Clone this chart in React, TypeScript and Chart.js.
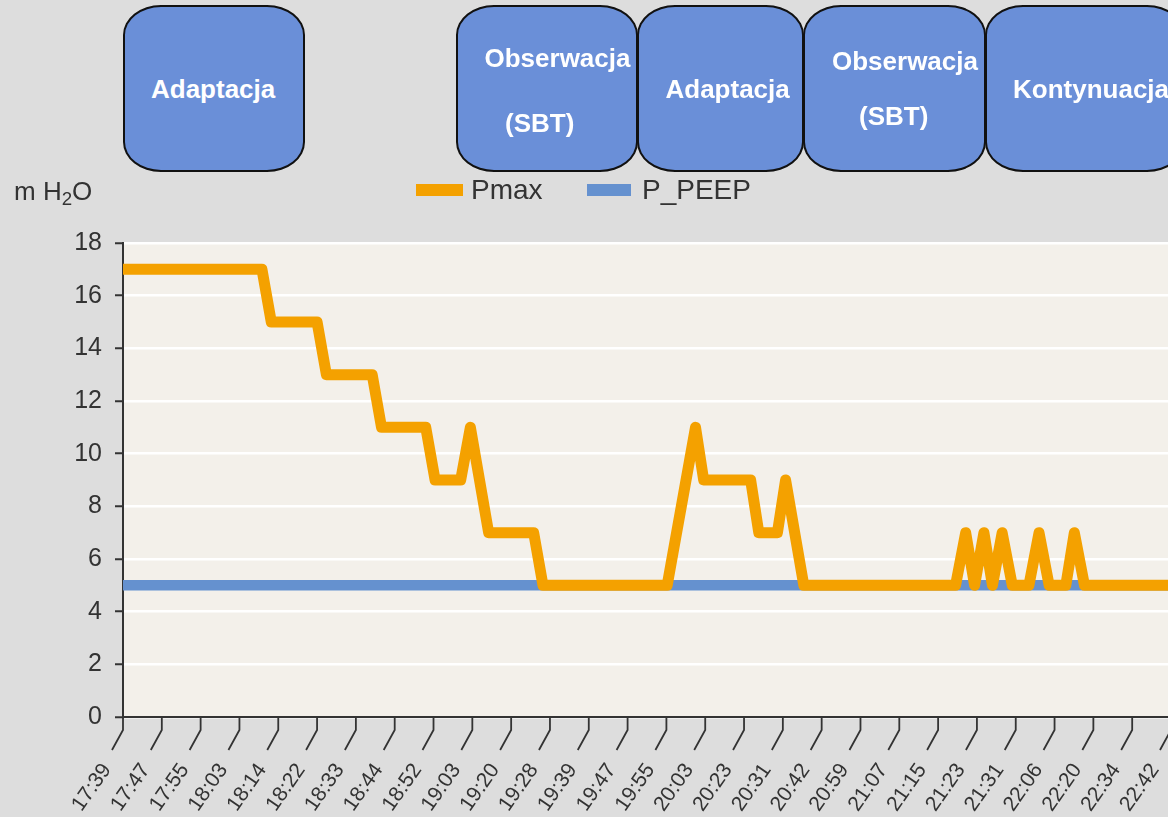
import React, { useEffect, useRef } from "react";
import { Chart, registerables } from "chart.js";

Chart.register(...registerables);

// ---- data ----
const timeLabels = [
  "17:39", "17:47", "17:55", "18:03", "18:14", "18:22", "18:33", "18:44", "18:52", "19:03",
  "19:20", "19:28", "19:39", "19:47", "19:55", "20:03", "20:23", "20:31", "20:42", "20:59",
  "21:07", "21:15", "21:23", "21:31", "22:06", "22:20", "22:34", "22:42",
];

// positions along the time axis, expressed in label-interval units (0 = 17:39)
const pmaxPos = [
  0, 3.58, 3.82, 5.0, 5.24, 6.42, 6.66, 7.8, 8.04, 8.7,
  8.95, 9.42, 10.58, 10.82, 14.02, 14.75, 14.96, 16.17, 16.38, 16.86,
  17.07, 17.54, 21.45, 21.71, 21.94, 22.18, 22.4, 22.65, 22.91, 23.34,
  23.6, 23.86, 24.29, 24.51, 24.77, 27,
];
const pmaxValues = [
  17, 17, 15, 15, 13, 13, 11, 11, 9, 9,
  11, 7, 7, 5, 5, 11, 9, 9, 7, 7,
  9, 5, 5, 7, 5, 7, 5, 7, 5, 5,
  7, 5, 5, 7, 5, 5,
];

const peepPos = [0, 27];
const peepValues = [5, 5];

const yMin = 0;
const yMax = 18;
const yStep = 2;

const phases = [
  { left: 123, width: 182, lines: [{ text: "Adaptacja", x: 151, top: 76 }] },
  {
    left: 455.5, width: 182,
    lines: [
      { text: "Obserwacja", x: 484.5, top: 44.5 },
      { text: "(SBT)", x: 505, top: 109.5 },
    ],
  },
  { left: 636.5, width: 167, lines: [{ text: "Adaptacja", x: 665.5, top: 76 }] },
  {
    left: 802.5, width: 183.5,
    lines: [
      { text: "Obserwacja", x: 832, top: 48 },
      { text: "(SBT)", x: 859, top: 103 },
    ],
  },
  { left: 985, width: 200, lines: [{ text: "Kontynuacja", x: 1013, top: 76 }] },
];

// ---- styles ----
const ORANGE = "#F4A100";
const BLUE = "#6591CF";
const AXIS = "#333333";
const PLOT_BG = "#F3F0EA";
const PAGE_BG = "#DDDDDD";
const BOX_BG = "#6A8FD8";
const FONT = '"Liberation Sans", Arial, Helvetica, sans-serif';

const decorPlugin = {
  id: "decor",
  beforeDraw(chart: any) {
    const { ctx, chartArea: a } = chart;
    ctx.save();
    ctx.fillStyle = PLOT_BG;
    ctx.fillRect(a.left, a.top, a.right - a.left, a.bottom - a.top);
    ctx.restore();
  },
  afterDraw(chart: any) {
    const { ctx } = chart;
    const xs = chart.scales.x;
    const yb = chart.chartArea.bottom;
    ctx.save();
    ctx.strokeStyle = AXIS;
    ctx.lineWidth = 1.8;
    ctx.fillStyle = AXIS;
    ctx.font = `21px ${FONT}`;
    timeLabels.forEach((lab, i) => {
      const px = xs.getPixelForValue(i);
      ctx.beginPath();
      ctx.moveTo(px, yb);
      ctx.lineTo(px, yb + 13);
      ctx.lineTo(px - 11, yb + 33);
      ctx.stroke();
      ctx.save();
      ctx.translate(px - 16, yb + 49);
      ctx.rotate((-55 * Math.PI) / 180);
      ctx.textAlign = "right";
      ctx.textBaseline = "middle";
      ctx.fillText(lab, 0, 0);
      ctx.restore();
    });
    ctx.restore();
  },
};

export default function App() {
  const canvasRef = useRef<HTMLCanvasElement | null>(null);

  useEffect(() => {
    if (!canvasRef.current) return;
    const chart = new Chart(canvasRef.current, {
      type: "line",
      data: {
        datasets: [
          {
            label: "Pmax",
            data: pmaxPos.map((x, i) => ({ x, y: pmaxValues[i] })),
            borderColor: ORANGE,
            backgroundColor: ORANGE,
            borderWidth: 11,
            pointRadius: 0,
            borderJoinStyle: "round",
            tension: 0,
            fill: false,
          },
          {
            label: "P_PEEP",
            data: peepPos.map((x, i) => ({ x, y: peepValues[i] })),
            borderColor: BLUE,
            backgroundColor: BLUE,
            borderWidth: 10.5,
            pointRadius: 0,
            tension: 0,
            fill: false,
          },
        ],
      },
      options: {
        responsive: false,
        animation: false,
        layout: { padding: { top: 243, left: 0, right: 0, bottom: 0 } },
        plugins: {
          legend: { display: false },
          tooltip: { enabled: false },
        },
        scales: {
          x: {
            type: "linear",
            min: 0,
            max: timeLabels.length - 1,
            grid: { display: false, drawTicks: false },
            border: { display: true, color: AXIS, width: 2 },
            ticks: { display: false },
            afterFit: (s: any) => {
              s.height = 100;
            },
          },
          y: {
            min: yMin,
            max: yMax,
            ticks: {
              stepSize: yStep,
              font: { family: FONT, size: 25 },
              color: AXIS,
              padding: 13,
            },
            grid: {
              color: "#FFFFFF",
              lineWidth: 2.5,
              tickColor: AXIS,
              tickLength: 8,
              tickWidth: 2,
              drawTicks: true,
            },
            border: { display: true, color: AXIS, width: 2 },
            afterFit: (s: any) => {
              s.width = 123;
            },
          },
        },
      } as any,
      plugins: [decorPlugin],
    });
    return () => chart.destroy();
  }, []);

  return (
    <div
      style={{
        position: "absolute",
        left: 0,
        top: 0,
        width: 1168,
        height: 817,
        overflow: "hidden",
        background: PAGE_BG,
        fontFamily: FONT,
      }}
    >
      <canvas
        ref={canvasRef}
        width={1171}
        height={817}
        style={{ position: "absolute", left: 0, top: 0 }}
      />
      {phases.map((p, i) => (
        <div
          key={i}
          style={{
            position: "absolute",
            left: p.left,
            top: 5,
            width: p.width,
            height: 167,
            boxSizing: "border-box",
            border: "2px solid #111",
            borderRadius: "38px / 30px",
            background: BOX_BG,
          }}
        />
      ))}
      {phases.map((p, i) =>
        p.lines.map((l, j) => (
          <span
            key={`${i}-${j}`}
            style={{
              position: "absolute",
              left: l.x,
              top: l.top,
              fontSize: 26,
              lineHeight: "26px",
              fontWeight: "bold",
              color: "#FFFFFF",
              whiteSpace: "nowrap",
            }}
          >
            {l.text}
          </span>
        ))
      )}
      <span
        style={{
          position: "absolute",
          left: 14,
          top: 177.5,
          fontSize: 26,
          lineHeight: "26px",
          color: AXIS,
          whiteSpace: "nowrap",
        }}
      >
        m H
        <sub style={{ fontSize: "0.72em", verticalAlign: "-0.25em", lineHeight: 0 }}>2</sub>O
      </span>
      <div
        style={{ position: "absolute", left: 416, top: 184, width: 47, height: 12, background: ORANGE }}
      />
      <span
        style={{
          position: "absolute",
          left: 471,
          top: 175.6,
          fontSize: 28,
          lineHeight: "28px",
          color: AXIS,
          whiteSpace: "nowrap",
        }}
      >
        Pmax
      </span>
      <div
        style={{ position: "absolute", left: 587, top: 184, width: 44, height: 12, background: BLUE }}
      />
      <span
        style={{
          position: "absolute",
          left: 642,
          top: 175.6,
          fontSize: 28,
          lineHeight: "28px",
          color: AXIS,
          whiteSpace: "nowrap",
        }}
      >
        P_PEEP
      </span>
    </div>
  );
}
